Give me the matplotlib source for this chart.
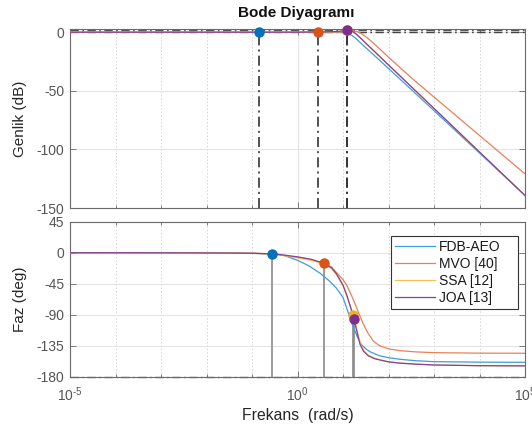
import numpy as np
import matplotlib
matplotlib.use("Agg")
import matplotlib.pyplot as plt
from matplotlib.ticker import FixedLocator, LogLocator, NullFormatter, FixedFormatter

plt.rcParams['font.family'] = ['Liberation Sans', 'DejaVu Sans']
plt.rcParams['mathtext.fontset'] = 'custom'
plt.rcParams['mathtext.rm'] = 'Liberation Sans'
plt.rcParams['mathtext.it'] = 'Liberation Sans:italic'
plt.rcParams['mathtext.bf'] = 'Liberation Sans:bold'
plt.rcParams['axes.unicode_minus'] = False

# ---------------- data ----------------
series_names = ["FDB-AEO", "MVO [40]", "SSA [12]", "JOA [13]"]
marker_colors = ["#0072BD", "#D95319", "#EDB120", "#7E2F8E"]
line_colors = ["#3f9cdc", "#ea8058", "#f3c24e", "#84409a"]

# magnitude curves: log10(frequency) and dB
mag_logw_blue = [-5, 0, 0.6, 0.9, 1.0, 1.1, 1.2, 1.3, 1.4, 1.5, 1.7, 2.0, 3.0, 4.0, 5.0]
mag_db_blue = [0, 0, -0.05, -0.2, -0.35, -1.0, -2.8, -6.0, -9.6, -13.1, -20.2, -30.9, -66.9, -103.1, -139.3]

mag_logw_orange = [-5, 0, 0.8, 1.0, 1.15, 1.25, 1.32, 1.4, 1.5, 1.6, 1.8, 2.0, 2.5, 3.0, 4.0, 5.0]
mag_db_orange = [0, 0, 0.1, 0.3, 0.7, 0.9, 0.5, -1.0, -3.8, -7.0, -14.0, -21.3, -38.8, -55.3, -88.1, -120.9]

mag_logw_yellow = [-5, 0, 0.6, 0.9, 1.0, 1.08, 1.15, 1.22, 1.3, 1.4, 1.5, 1.7, 2.0, 3.0, 4.0, 5.0]
mag_db_yellow = [0, 0, 0.2, 0.6, 1.2, 1.8, 1.6, 0.4, -2.0, -5.6, -9.4, -16.8, -28.0, -65.1, -102.3, -139.4]

mag_logw_purple = [-5, 0, 0.6, 0.9, 1.0, 1.08, 1.15, 1.22, 1.3, 1.4, 1.5, 1.7, 2.0, 3.0, 4.0, 5.0]
mag_db_purple = [0, 0, 0.3, 0.7, 1.3, 2.0, 1.8, 0.5, -1.9, -5.5, -9.3, -16.7, -27.9, -65.0, -102.2, -139.3]

# phase curves: log10(frequency) and degrees
ph_logw_blue = [-5, -3, -2, -1.5, -1, -0.567, -0.3, 0, 0.25, 0.5, 0.7, 0.85, 1.0, 1.1, 1.2, 1.3, 1.4,
                1.5, 1.6, 1.8, 2.0, 2.25, 2.6, 3.0, 4.0, 5.0]
ph_deg_blue = [0, -0.1, -0.3, -0.5, -0.9, -1.9, -4, -11, -19, -30, -41, -51, -65, -84, -103, -120, -133,
               -139.5, -144, -149.5, -152.5, -154.7, -156.8, -158.2, -158.9, -159.1]

ph_logw_orange = [-5, -3, -2, -1, -0.5, 0, 0.3, 0.589, 0.75, 0.86, 1.0, 1.08, 1.2, 1.3, 1.36, 1.45, 1.55,
                  1.67, 1.8, 2.0, 2.25, 2.6, 3.0, 4.0, 5.0]
ph_deg_orange = [0, -0.1, -0.3, -0.8, -1.8, -6.7, -10.5, -15.4, -21, -29, -39, -47, -64, -80, -90, -104, -117,
                 -128.5, -135, -139.5, -142.2, -144, -145.1, -145.8, -146]

ph_logw_yellow = [-5, -3, -2, -1, -0.5, 0, 0.3, 0.589, 0.75, 0.86, 1.0, 1.08, 1.16, 1.226, 1.3, 1.374, 1.45,
                  1.55, 1.7, 1.81, 2.0, 2.25, 2.6, 3.0, 4.0, 5.0]
ph_deg_yellow = [0, -0.1, -0.3, -0.9, -2.0, -7.5, -11, -16.5, -23, -32, -48, -62, -77, -90.4, -110, -130, -141.5,
                 -148.5, -153.5, -155.5, -158.3, -160.2, -161.8, -163, -164, -164.3]

ph_logw_purple = [-5, -3, -2, -1, -0.5, 0, 0.3, 0.589, 0.75, 0.86, 1.0, 1.08, 1.16, 1.242, 1.3, 1.374, 1.45,
                  1.55, 1.7, 1.81, 2.0, 2.25, 2.6, 3.0, 4.0, 5.0]
ph_deg_purple = [0, -0.1, -0.3, -0.8, -1.8, -6, -9.5, -15.5, -22, -31, -47, -61, -78, -96.7, -113, -133, -143,
                 -149.5, -154, -155.7, -158.5, -160.3, -161.8, -163, -164, -164.3]

# marked points
mag_marker_w = [0.1425, 2.78, 12.05, 12.05]
mag_marker_db = [0.0, 0.0, 2.1, 2.1]
ph_marker_w = [0.271, 3.88, 16.8, 17.5]
ph_marker_deg = [-1.9, -15.4, -90.4, -96.7]

mag_yticks = [0, -50, -100, -150]
ph_yticks = [45, 0, -45, -90, -135, -180]
x_major = [1e-5, 1e0, 1e5]
x_major_labels = [r"$10^{\text{-5}}$", r"$10^{0}$", r"$10^{5}$"]

mag_logw = [mag_logw_blue, mag_logw_orange, mag_logw_yellow, mag_logw_purple]
mag_db = [mag_db_blue, mag_db_orange, mag_db_yellow, mag_db_purple]
ph_logw = [ph_logw_blue, ph_logw_orange, ph_logw_yellow, ph_logw_purple]
ph_deg = [ph_deg_blue, ph_deg_orange, ph_deg_yellow, ph_deg_purple]

# ---------------- figure ----------------
W, H = 532, 430
fig = plt.figure(figsize=(W / 100, H / 100), dpi=100)
L, R = 70 / W, 525 / W
ax1 = fig.add_axes([L, 1 - 208 / H, R - L, (208 - 29.3) / H])
ax2 = fig.add_axes([L, 1 - 376.7 / H, R - L, (376.7 - 221.7) / H])

tick_color = "#555555"
spine_color = "#6a6a6a"
label_color = "#262626"
dashdot = (0, (6, 2.5, 1.2, 2.5))

for ax in (ax1, ax2):
    ax.set_xscale("log")
    ax.set_xlim(1e-5, 1e5)
    ax.xaxis.set_major_locator(FixedLocator(x_major))
    ax.xaxis.set_minor_locator(LogLocator(base=10, subs=(1.0,), numticks=20))
    ax.xaxis.set_minor_formatter(NullFormatter())
    ax.grid(True, which="major", color="#e4e4e4", lw=0.8, zorder=0)
    ax.grid(True, which="minor", axis="x", color="#d4d4d4", lw=0.7, ls=(0, (1.5, 2.0)), zorder=0)
    ax.set_axisbelow(True)
    ax.tick_params(which="both", direction="in", top=True, right=True, colors=spine_color,
                   labelcolor=tick_color, labelsize=10, width=0.6, pad=4)
    ax.tick_params(which="major", length=4)
    ax.tick_params(which="minor", length=2.5)
    for s in ax.spines.values():
        s.set_color(spine_color)
        s.set_linewidth(0.8)

# --- magnitude ---
ax1.set_ylim(-150, 2.5)
ax1.set_yticks(mag_yticks)
ax1.set_xticklabels([])
ax1.axhline(mag_marker_db[3], color="#555555", lw=1.0, ls=dashdot, zorder=2)
ax1.axhline(0, color="#444444", lw=1.0, ls=dashdot, zorder=2)
for i in range(4):
    ax1.vlines(mag_marker_w[i], -150, mag_marker_db[i], color="#333333", lw=1.2, ls=dashdot, zorder=2)
for i in range(4):
    ax1.plot(np.power(10.0, mag_logw[i]), mag_db[i], color=line_colors[i], lw=0.9, zorder=3)
for i in range(4):
    ax1.plot(mag_marker_w[i], mag_marker_db[i], "o", color=marker_colors[i], ms=6.5, zorder=5, clip_on=False)
ax1.set_ylabel("Genlik (dB)", fontsize=11, color=label_color)
ax1.yaxis.set_label_coords(-0.095, 0.5)

# --- phase ---
ax2.set_ylim(-180, 45)
ax2.set_yticks(ph_yticks)
ax2.xaxis.set_major_formatter(FixedFormatter(x_major_labels))
ax2.tick_params(axis="x", which="major", pad=6, labelsize=10)
ax2.axhline(-180, color="#666666", lw=1.0, ls=dashdot, zorder=2, clip_on=False)
for i in range(4):
    ax2.vlines(ph_marker_w[i], -180, ph_marker_deg[i], color="#8a8a8a", lw=1.2, zorder=2)
lines = []
for i in range(4):
    ln, = ax2.plot(np.power(10.0, ph_logw[i]), ph_deg[i], color=line_colors[i], lw=0.9, zorder=3,
                   label=series_names[i])
    lines.append(ln)
for i in range(4):
    ax2.plot(ph_marker_w[i], ph_marker_deg[i], "o", color=marker_colors[i], ms=6.5, zorder=5)
ax2.set_ylabel("Faz (deg)", fontsize=11, color=label_color)
ax2.yaxis.set_label_coords(-0.095, 0.5)
ax2.set_xlabel("Frekans  (rad/s)", fontsize=11.3, color=label_color)
ax2.xaxis.set_label_coords(0.5, -0.2)

leg = ax2.legend(handles=lines, loc="upper left", bbox_to_anchor=(0.7055, 0.43, 0.279, 0.4777),
                 mode="expand", borderaxespad=0,
                 fontsize=10, frameon=True, fancybox=False, framealpha=1, edgecolor="#333333",
                 handlelength=2.9, handletextpad=0.3, labelspacing=0.22, borderpad=0.28)
leg.get_frame().set_linewidth(0.8)
for t in leg.get_texts():
    t.set_color("#1a1a1a")

fig.text(296.5 / W, 1 - 12.5 / H, "Bode Diyagramı", fontsize=11, fontweight="bold",
         ha="center", va="center", color="#111111")

fig.savefig("out.png", dpi=100)
